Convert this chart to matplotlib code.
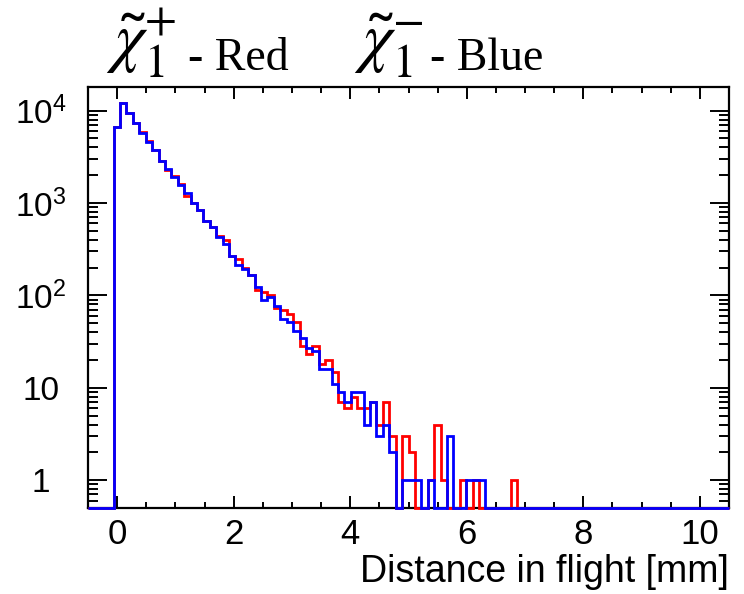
import numpy as np
import matplotlib
matplotlib.use("Agg")
import matplotlib.pyplot as plt
from matplotlib.ticker import FixedLocator, MultipleLocator, FuncFormatter, NullFormatter

# ---- data: 100 bins from -0.5 to 10.5 mm ----
x_min, x_max, n_bins = -0.5, 10.5, 100

red_counts = [
    0, 0, 0, 0, 6700, 12100, 9300, 7400, 5850, 4650,
    3750, 2860, 2300, 1950, 1620, 1200, 1010, 850, 640, 555,
    440, 400, 268, 250, 196, 168, 114, 110, 102, 73,
    70, 63, 51, 28, 23, 28, 18, 20, 15, 7,
    6, 8, 6, 6, 7, 4, 7, 3, 0, 3,
    2, 0, 0, 1, 4, 1, 0, 0, 1, 0,
    1, 0, 0, 0, 0, 0, 1, 0, 0, 0,
    0, 0, 0, 0, 0, 0, 0, 0, 0, 0,
    0, 0, 0, 0, 0, 0, 0, 0, 0, 0,
    0, 0, 0, 0, 0, 0, 0, 0, 0, 0,
]
blue_counts = [
    0, 0, 0, 0, 6700, 12100, 9300, 7400, 5770, 4610,
    3750, 2860, 2340, 1900, 1575, 1280, 1010, 850, 634, 555,
    430, 363, 268, 215, 194, 165, 122, 90, 97, 76,
    55, 51, 41, 35, 27, 25, 16, 16, 11, 9,
    7, 9, 9, 4, 7, 3, 4, 2, 0, 1,
    1, 1, 0, 1, 0, 0, 3, 0, 0, 1,
    1, 1, 0, 0, 0, 0, 0, 0, 0, 0,
    0, 0, 0, 0, 0, 0, 0, 0, 0, 0,
    0, 0, 0, 0, 0, 0, 0, 0, 0, 0,
    0, 0, 0, 0, 0, 0, 0, 0, 0, 0,
]
x_tick_values = [0, 2, 4, 6, 8, 10]
y_tick_values = [1, 10, 100, 1000, 10000]
y_tick_labels = ["1", "10", "$10^{2}$", "$10^{3}$", "$10^{4}$"]
x_label = "Distance in flight [mm]"
title_symbols = [r"$\tilde{\mathit{\chi}}_{\mathrm{1}}^{\mathrm{+}}$",
                 r"$\tilde{\mathit{\chi}}_{\mathrm{1}}^{\mathrm{-}}$"]
title_suffixes = ["- Red", "- Blue"]

y_min, y_max = 0.5, 1.8e4

plt.rcParams["font.family"] = ["Liberation Sans", "DejaVu Sans"]
plt.rcParams["mathtext.fontset"] = "custom"
plt.rcParams["mathtext.rm"] = "Liberation Sans"
plt.rcParams["mathtext.default"] = "regular"

W, H = 744, 594
fig = plt.figure(figsize=(W / 100, H / 100), dpi=100)
ax = fig.add_axes([88 / W, 1 - 508 / H, (729 - 88) / W, (508 - 87) / H])

edges = np.linspace(x_min, x_max, n_bins + 1)
for counts, col in [(red_counts, "#ff0000"), (blue_counts, "#0000ff")]:
    vals = np.asarray(counts, dtype=float)
    vals = np.where(vals > 0, vals, y_min)
    ax.stairs(vals, edges, baseline=y_min, color=col, linewidth=2.0,
              clip_on=False, zorder=3)

ax.set_yscale("log")
ax.set_xlim(x_min, x_max)
ax.set_ylim(y_min, y_max)

ax.xaxis.set_major_locator(FixedLocator(x_tick_values))
ax.xaxis.set_minor_locator(MultipleLocator(0.5))
ax.yaxis.set_major_locator(FixedLocator(y_tick_values))


def ylab(v, p):
    iv = int(round(v))
    return y_tick_labels[y_tick_values.index(iv)] if iv in y_tick_values else ""


ax.yaxis.set_major_formatter(FuncFormatter(ylab))
minor_y = [m * 10 ** e for e in range(-1, 5) for m in range(2, 10)]
ax.yaxis.set_minor_locator(FixedLocator(minor_y))
ax.yaxis.set_minor_formatter(NullFormatter())

ax.tick_params(axis="both", which="both", direction="in", top=True, right=True,
               width=1.4, colors="black")
ax.tick_params(axis="y", which="major", length=14, pad=34, labelsize=24)
ax.tick_params(axis="y", which="minor", length=7)
ax.tick_params(axis="x", which="major", length=8.5, pad=7, labelsize=25)
ax.tick_params(axis="x", which="minor", length=4.3)
for lab in ax.get_yticklabels():
    lab.set_horizontalalignment("center")
for s in ax.spines.values():
    s.set_linewidth(1.6)

ax.set_xlabel(x_label, fontsize=27, loc="right", labelpad=2)


def ptext(xpx, ypx, s, size, **kw):
    fig.text(xpx / W, 1 - ypx / H, s, fontsize=size, va="baseline", **kw)


for sym, suffix, x0, dx in zip(title_symbols, title_suffixes, [106, 354], [82, 76]):
    ptext(x0, 60, sym, 48, math_fontfamily="stix")
    ptext(x0 + dx, 70, suffix, 33, family="Liberation Serif")

fig.savefig("out.png", dpi=100)
